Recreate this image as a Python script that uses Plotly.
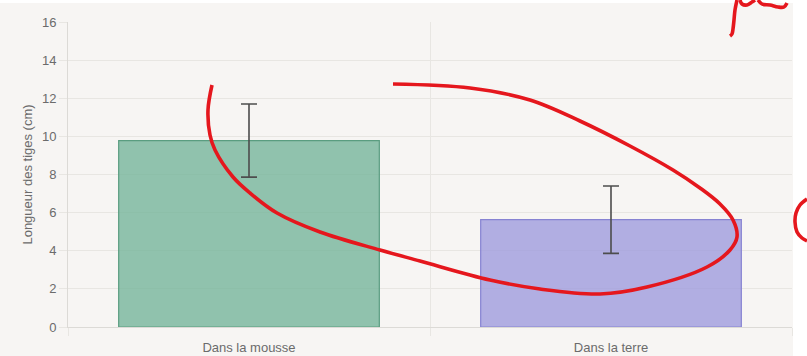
import plotly.graph_objects as go

# ---- data ----
categories = ["Dans la mousse", "Dans la terre"]
lengths = [9.78, 5.63]
errors = [1.92, 1.77]
bar_fill = ["rgba(115,180,153,0.78)", "rgba(158,154,220,0.78)"]
bar_line = ["#5a9d80", "#8783d2"]

# hand-drawn red annotation strokes (pixel coordinates of the picture, y down)
loop_x = [212, 208, 210, 215, 233, 250, 277, 320, 380, 420, 490, 540, 600, 647, 707, 730,
          737, 733, 720, 700, 673, 630, 580, 530, 470, 393]
loop_y = [85, 110, 135, 150, 177, 193, 213, 232, 250, 261, 280, 289, 294, 287, 267, 250,
          237, 220, 204, 188, 170, 146, 121, 100, 88, 84]
fa_x = [737, 735, 734, 733, 732, 730]
fa_y = [0, 10, 20, 29, 34, 36]
fa2_x = [740, 742, 747, 752, 755]
fa2_y = [0, 4, 5, 2, 0]
fa3_x = [758, 762, 770, 778, 784, 787]
fa3_y = [0, 4, 5, 7, 7, 3]
paren_x = [807, 800, 796, 795, 797, 802, 807]
paren_y = [199, 205, 213, 222, 232, 238, 241]

W, H = 807, 356
x0, x1 = 68, 792
y_top, y_bot = 22, 327

fig = go.Figure()

for i, c in enumerate(categories):
    fig.add_trace(go.Bar(
        x=[c], y=[lengths[i]],
        marker=dict(color=bar_fill[i], line=dict(color=bar_line[i], width=1.2)),
        error_y=dict(type="data", array=[errors[i]], visible=True,
                     color="#4d4d4d", thickness=1.6, width=8),
        showlegend=False, hoverinfo="skip",
        xaxis="x", yaxis="y",
    ))

red = "#e5171d"
for sx, sy in [(loop_x, loop_y), (fa_x, fa_y), (fa2_x, fa2_y), (fa3_x, fa3_y), (paren_x, paren_y)]:
    fig.add_trace(go.Scatter(
        x=sx, y=sy, mode="lines",
        line=dict(color=red, width=3.6, shape="spline", smoothing=1.0),
        showlegend=False, hoverinfo="skip",
        xaxis="x2", yaxis="y2",
    ))

grid = "#e8e6e2"
font = dict(family="Liberation Sans, Arial, sans-serif", size=13, color="#6b6b6b")

fig.update_layout(
    width=W, height=H,
    margin=dict(l=0, r=0, t=0, b=0),
    paper_bgcolor="#f7f5f3",
    plot_bgcolor="rgba(0,0,0,0)",
    bargap=0.28,
    font=font,
    xaxis=dict(
        domain=[x0 / W, x1 / W],
        type="category",
        tickson="boundaries",
        showgrid=True, gridcolor=grid, gridwidth=1,
        ticks="outside", ticklen=8, tickcolor=grid,
        ticklabelstandoff=8,
        showline=True, linecolor="#dcdad6", linewidth=1,
        tickfont=font,
        anchor="y",
        automargin=False,
        range=[-0.5, 1.5],
    ),
    yaxis=dict(
        domain=[(H - y_bot) / H, (H - y_top) / H],
        range=[0, 16], dtick=2,
        showgrid=True, gridcolor=grid, gridwidth=1,
        zeroline=False,
        ticks="outside", ticklen=8, tickcolor=grid,
        showline=True, linecolor="#dcdad6", linewidth=1,
        tickfont=font,
        title=dict(text="Longueur des tiges (cm)", font=font, standoff=6),
        anchor="x",
        automargin=False,
    ),
    xaxis2=dict(domain=[0, 1], range=[0, W], visible=False, anchor="y2", fixedrange=True),
    yaxis2=dict(domain=[0, 1], range=[H, 0], visible=False, anchor="x2", fixedrange=True),
    shapes=[
        dict(type="rect", xref="paper", yref="paper", x0=0, x1=1, y0=(H - 3) / H, y1=1,
             fillcolor="white", line=dict(width=0), layer="below"),
        dict(type="rect", xref="paper", yref="paper", x0=793 / W, x1=1, y0=0, y1=1,
             fillcolor="white", line=dict(width=0), layer="below"),
    ],
)

fig.write_html("out.html")
